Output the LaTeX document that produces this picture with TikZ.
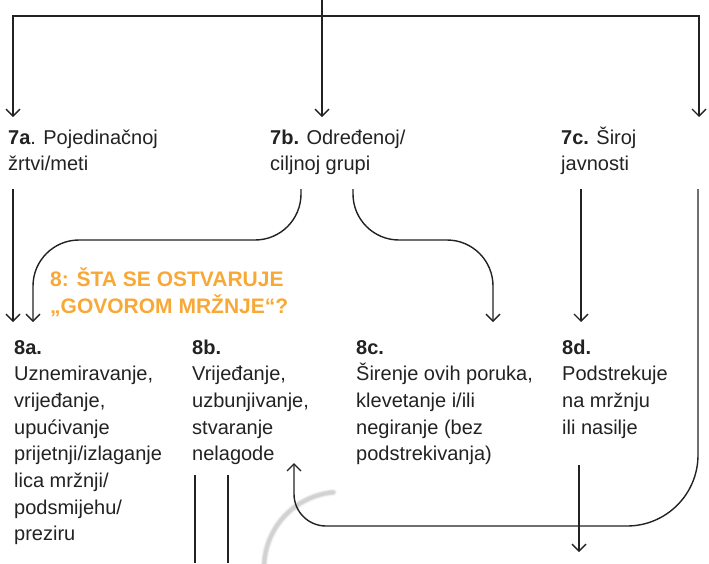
\documentclass[tikz,border=0pt]{standalone}
\usepackage{fontspec}
\setmainfont{Liberation Sans}
\usetikzlibrary{arrows.meta}
\definecolor{ink}{HTML}{222222}
\definecolor{orng}{HTML}{F8A836}
\definecolor{arcgray}{HTML}{D2D2D2}
\begin{document}
\begin{tikzpicture}[x=1pt,y=-1pt,
  conn/.style={draw=ink, line width=1.4pt},
  arr/.style={conn, -{Straight Barb[length=7pt,width=14pt]}},
  txt/.style={anchor=base west, inner sep=0pt, text=ink, font=\fontsize{20}{26.7}\selectfont},
  ttl/.style={anchor=base west, inner sep=0pt, text=orng, font=\fontsize{21}{27}\selectfont\bfseries},
  softarc/.style={draw=arcgray, line cap=round}]
\useasboundingbox (0,0) rectangle (709,563);
\clip (0,0) rectangle (709,563);

% decorative gray arc (drawn first, under the connectors)
\draw[softarc, line width=7pt, opacity=0.25] (333.4,492.3) arc(265:182:76);
\draw[softarc, line width=5pt, opacity=0.5] (333.4,492.3) arc(265:182:76);
\draw[softarc, line width=3.5pt] (333.4,492.3) arc(265:182:76);

% text blocks
\node[txt] (n7a) at (8,144) {\begin{tabular}[t]{@{}l@{}}\textbf{7a}. Pojedinačnoj\\ žrtvi/meti\end{tabular}};
\node[txt] (n7b) at (270,144) {\begin{tabular}[t]{@{}l@{}}\textbf{7b.} Određenoj/\\ ciljnoj grupi\end{tabular}};
\node[txt] (n7c) at (561,144) {\begin{tabular}[t]{@{}l@{}}\textbf{7c.} Široj\\ javnosti\end{tabular}};

\node[ttl] (title) at (50,286) {\begin{tabular}[t]{@{}l@{}}8: ŠTA SE OSTVARUJE\\ „GOVOROM MRŽNJE“?\end{tabular}};

\node[txt] (n8a) at (14,354) {\begin{tabular}[t]{@{}l@{}}\textbf{8a.}\\ Uznemiravanje,\\ vrijeđanje,\\ upućivanje\\ prijetnji/izlaganje\\ lica mržnji/\\ podsmijehu/\\ preziru\end{tabular}};
\node[txt] (n8b) at (192,354) {\begin{tabular}[t]{@{}l@{}}\textbf{8b.}\\ Vrijeđanje,\\ uzbunjivanje,\\ stvaranje\\ nelagode\end{tabular}};
\node[txt] (n8c) at (356,354) {\begin{tabular}[t]{@{}l@{}}\textbf{8c.}\\ Širenje ovih poruka,\\ klevetanje i/ili\\ negiranje (bez\\ podstrekivanja)\end{tabular}};
\node[txt] (n8d) at (562,354) {\begin{tabular}[t]{@{}l@{}}\textbf{8d.}\\ Podstrekuje\\ na mržnju\\ ili nasilje\end{tabular}};

% coordinates
\coordinate (src) at (322,0);
\coordinate (hl) at (13,16);
\coordinate (hr) at (699,16);
\coordinate (in7a) at (13,117);
\coordinate (in7b) at (322,117);
\coordinate (in7c) at (699,117);
\coordinate (out7a) at (13,189);
\coordinate (out7bL) at (301,189);
\coordinate (out7bR) at (353,189);
\coordinate (out7c) at (581,189);
\coordinate (outR) at (698,189);
\coordinate (in8a1) at (13,322);
\coordinate (in8a2) at (33,322);
\coordinate (in8c) at (493,322);
\coordinate (in8d) at (581,322);
\coordinate (in8b) at (294,463);
\coordinate (out8d) at (579,465);
\coordinate (end8d) at (579,552);
\coordinate (l1a) at (195,475);
\coordinate (l1b) at (195,563);
\coordinate (l2a) at (228,475);
\coordinate (l2b) at (228,563);

% top distribution
\draw[arr] (src) -- (in7b);
\draw[arr] (hr) -- (hl) -- (in7a);
\draw[arr] (hl) -- (hr) -- (in7c);

% level 7 -> level 8
\draw[arr] (out7a) -- (in8a1);
\draw[arr, rounded corners=46pt] (out7bL) -- (301,240) -- (33,240) -- (in8a2);
\draw[arr, rounded corners=46pt] (out7bR) -- (353,240) -- (493,240) -- (in8c);
\draw[arr] (out7c) -- (in8d);
\draw[arr] (outR) -- (698,455) arc(0:90:71) -- (326,526) arc(90:180:32) -- (in8b);
\draw[arr] (out8d) -- (end8d);

% lines under 8b
\draw[conn] (l1a) -- (l1b);
\draw[conn] (l2a) -- (l2b);
\end{tikzpicture}
\end{document}
